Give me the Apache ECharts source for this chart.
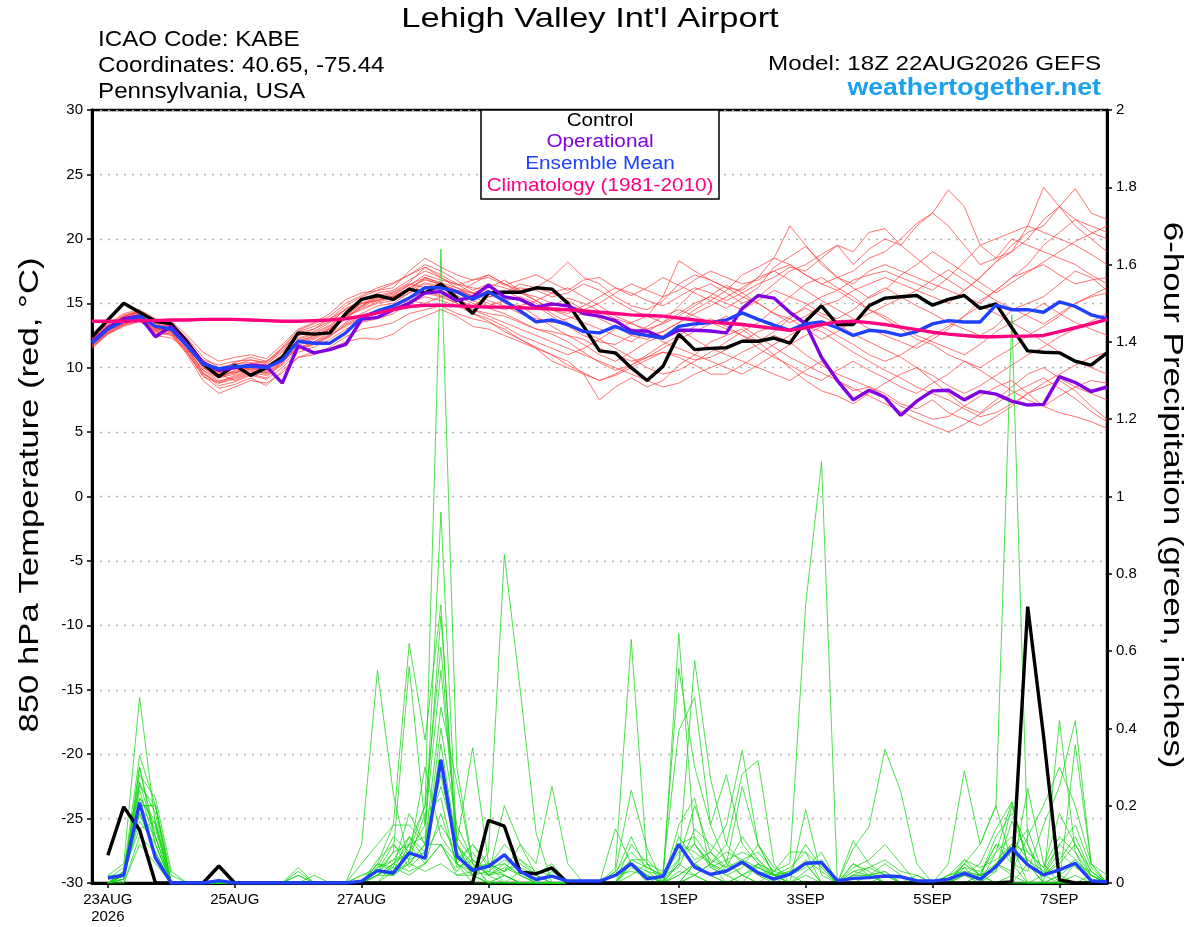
<!DOCTYPE html>
<html><head><meta charset="utf-8">
<script src="https://cdn.jsdelivr.net/npm/echarts@6/dist/echarts.min.js"></script>
<style>html,body{margin:0;padding:0;background:#fff}#c{width:1200px;height:927px}</style>
</head><body><div id="c"></div>
<script>
// ---- x axis: 6-hourly steps from 22AUG2026 18Z (index 0) to 7SEP 18Z (index 64)
const tickIdx  = [1, 9, 17, 25, 37, 45, 53, 61];
const tickText = ['23AUG\n2026', '25AUG', '27AUG', '29AUG', '1SEP', '3SEP', '5SEP', '7SEP'];
const leftTicks = [-30,-25,-20,-15,-10,-5,0,5,10,15,20,25,30];
const rightTicks = [0,0.2,0.4,0.6,0.8,1,1.2,1.4,1.6,1.8,2];

// ---- 850 hPa temperature (deg C), 65 values each
const controlT = [12.4,13.7,15.0,14.3,13.6,13.4,12.0,10.3,9.3,10.2,
 9.4,10.0,10.8,12.7,12.6,12.7,14.2,15.3,15.6,15.3,
 16.1,15.8,16.5,15.4,14.2,15.8,15.85,15.85,16.2,16.1,
 15.0,13.2,11.3,11.15,10.0,9.0,10.1,12.6,11.4,11.5,
 11.55,12.05,12.05,12.3,11.9,13.6,14.8,13.35,13.35,14.8,
 15.4,15.5,15.6,14.85,15.3,15.6,14.6,14.95,13.1,11.3,
 11.2,11.15,10.5,10.2,11.15];
const meanT = [11.9,13.0,13.6,14.0,13.2,13.0,11.7,10.3,9.9,10.1,
 10.1,10.0,10.6,12.05,11.9,11.9,12.7,13.9,14.4,14.8,
 15.4,16.2,16.2,15.9,15.3,15.9,15.2,14.4,13.55,13.7,
 13.35,12.8,12.7,13.2,12.7,12.5,12.3,13.2,13.4,13.5,
 13.7,14.25,13.75,13.3,12.9,13.4,13.55,13.1,12.5,12.9,
 12.8,12.5,12.8,13.4,13.65,13.55,13.55,14.85,14.5,14.5,
 14.3,15.1,14.75,14.1,13.8];
const operationalT = [12.0,13.1,13.8,14.0,12.4,13.2,11.8,10.4,9.8,10.0,
 10.2,10.1,8.8,11.7,11.15,11.4,11.8,13.75,13.9,14.5,
 15.0,15.8,15.9,15.2,15.5,16.4,15.5,15.3,14.7,14.95,
 14.8,14.2,14.0,13.65,12.85,12.85,12.3,12.9,12.9,12.85,
 12.7,14.6,15.6,15.4,14.3,13.4,10.8,9.0,7.5,8.25,
 7.7,6.3,7.4,8.2,8.25,7.5,8.15,7.95,7.4,7.1,
 7.15,9.3,8.85,8.15,8.5];
const climatologyT = [13.6,13.6,13.6,13.65,13.65,13.7,13.7,13.75,13.75,13.75,
 13.7,13.65,13.6,13.6,13.65,13.7,13.8,14.0,14.25,14.5,
 14.75,14.85,14.85,14.8,14.75,14.7,14.7,14.65,14.6,14.55,
 14.5,14.4,14.3,14.2,14.1,14.05,14.0,13.85,13.7,13.55,
 13.45,13.35,13.2,13.05,12.9,13.1,13.35,13.55,13.6,13.5,
 13.35,13.15,12.95,12.75,12.6,12.5,12.4,12.4,12.45,12.45,
 12.5,12.8,13.1,13.4,13.75];

const tempM01 = [12.2,13.2,13.9,14.3,13.5,13.3,12.0,10.6,10.2,10.5, 10.6,10.3,11.2,12.5,12.8,13.5,14.5,15.2,15.8,16.0, 16.8,17.5,17.0,16.2,15.5,16.0,15.0,14.8,14.0,13.2, 12.5,11.8,11.0,10.5,11.2,12.0,12.5,13.0,12.2,11.5, 11.0,10.5,10.0,9.5,9.0,9.8,10.5,9.0,8.2,8.5, 8.0,7.2,6.8,7.5,6.5,6.0,5.5,6.2,7.0,8.0, 8.5,9.0,8.2,7.0,6.0];
const tempM02 = [11.8,12.8,13.5,13.8,13.0,12.8,11.2,9.5,8.8,9.3, 9.8,9.5,10.3,11.8,12.0,12.8,13.8,14.8,15.5,15.8, 16.5,16.2,15.8,15.3,14.8,15.5,15.8,16.2,16.0,15.5, 15.8,16.5,16.0,15.2,14.5,14.0,13.5,14.8,16.0,16.5, 15.8,15.0,15.5,16.5,17.5,18.0,18.8,19.5,18.0,19.2, 20.0,19.5,21.0,22.0,23.8,22.5,19.5,18.5,19.0,20.0, 21.5,22.5,21.0,20.0,19.0];
const tempM03 = [12.4,13.4,14.2,14.5,13.8,13.6,12.5,11.2,10.5,10.8, 11.0,10.7,11.8,13.0,13.5,14.2,15.3,15.8,16.0,16.2, 17.5,18.5,17.8,17.2,16.8,17.2,16.5,16.0,16.2,17.0, 18.2,17.0,16.5,15.5,14.8,14.5,15.2,16.5,17.2,16.8, 16.2,15.5,15.0,14.2,13.5,14.0,14.8,15.2,16.0,16.5, 17.0,16.5,16.0,15.5,15.0,16.0,17.0,18.2,19.0,21.0, 24.0,22.5,21.5,20.5,20.0];
const tempM04 = [11.5,12.6,13.2,13.6,12.8,12.6,11.0,9.0,8.0,8.5, 9.0,8.8,9.6,10.8,11.2,11.5,12.0,12.3,12.2,12.6, 13.5,14.0,14.5,14.0,13.2,13.0,12.5,12.0,11.5,11.0, 10.5,9.5,7.5,8.5,9.2,8.5,9.0,10.2,11.0,12.0, 12.5,13.0,12.0,11.0,10.0,9.0,8.2,7.8,7.2,8.0, 8.8,9.5,10.0,9.0,8.0,7.0,6.5,7.5,8.5,9.5, 10.0,9.2,8.5,8.0,7.5];
const tempM05 = [12.0,13.0,13.8,14.2,13.0,13.2,11.8,10.0,9.2,9.5, 10.2,10.0,10.8,12.0,12.5,13.0,14.0,15.0,15.5,15.5, 16.0,17.0,16.5,16.0,15.8,16.2,16.8,16.0,15.2,14.5, 14.0,13.5,13.0,12.5,12.0,12.8,13.5,14.2,15.0,15.5, 15.0,14.5,15.2,16.0,15.5,15.0,14.2,13.8,14.5,15.5, 16.2,15.5,14.8,14.2,13.5,13.0,12.5,13.2,14.5,15.0, 15.5,16.5,17.5,17.0,16.0];
const tempM06 = [12.2,12.9,13.4,13.9,12.5,12.3,11.4,10.2,9.5,9.0, 9.5,9.2,10.5,11.5,11.8,12.5,13.2,13.8,14.2,14.8, 15.2,15.0,15.5,15.8,15.2,14.8,15.2,15.5,15.0,14.2, 13.5,12.8,12.2,11.5,10.8,10.0,9.5,9.8,10.5,11.2, 12.0,12.8,13.5,14.5,15.5,16.5,17.0,16.2,15.5,14.5, 13.8,13.0,12.2,11.8,11.0,10.5,10.0,10.8,11.5,12.5, 13.2,14.0,15.0,15.5,15.8];
const tempM07 = [11.9,13.1,14.0,14.4,13.6,13.4,12.3,10.8,10.0,10.3, 10.4,10.2,11.5,12.8,13.2,13.8,14.8,15.5,16.0,16.5, 17.2,18.0,17.5,16.8,16.0,16.5,16.2,15.8,15.5,15.0, 14.8,14.5,15.0,15.8,16.5,16.0,15.5,16.0,16.8,17.5, 17.0,16.5,16.8,17.5,18.0,17.2,16.5,17.0,17.5,18.5, 19.0,20.0,21.2,22.0,21.0,19.5,18.0,18.5,20.0,19.5, 19.0,18.5,18.0,17.2,16.5];
const tempM08 = [11.6,12.7,13.4,13.7,12.9,12.9,11.5,9.8,9.0,9.2, 9.7,9.6,10.5,11.5,12.0,12.6,13.5,14.2,14.8,15.0, 15.8,16.2,16.0,15.5,14.5,14.0,13.5,13.0,12.5,12.0, 11.5,11.0,10.5,10.0,9.5,9.0,8.5,8.8,9.5,10.0, 10.5,11.2,11.8,12.5,12.0,11.0,10.2,9.5,9.0,8.5, 7.8,7.0,6.5,6.0,6.2,7.0,7.8,8.5,9.0,8.0, 7.0,6.5,6.2,5.8,5.3];
const tempM09 = [12.3,13.3,14.0,14.3,13.4,13.5,12.2,10.5,9.7,10.0, 10.3,10.5,11.5,12.5,13.0,13.8,14.5,15.0,15.2,15.5, 16.2,16.8,16.5,16.0,15.5,15.0,14.5,14.8,15.2,15.8, 16.2,15.5,14.8,14.0,13.5,14.0,15.5,18.3,17.5,16.8, 16.2,16.0,17.0,18.5,21.0,19.5,18.0,17.0,16.5,17.5, 18.0,17.5,17.0,16.5,16.0,15.5,15.0,16.0,17.0,18.0, 19.5,20.5,21.5,21.0,20.5];
const tempM10 = [11.7,12.8,13.6,14.0,13.1,13.0,11.5,9.6,8.6,8.9, 9.4,9.1,10.0,11.2,11.6,12.2,13.0,13.5,13.8,14.2, 15.0,15.5,15.2,14.8,14.2,13.8,13.2,12.5,12.0,11.5, 11.0,11.5,12.2,13.0,13.5,12.8,12.0,11.5,11.0,10.5, 10.0,9.5,10.2,11.0,11.8,12.5,13.2,12.5,11.8,11.0, 10.5,11.0,11.8,12.5,13.2,14.0,14.8,14.2,13.5,12.8, 12.0,11.2,10.5,10.0,9.5];
const tempM11 = [12.1,13.2,13.9,14.1,13.3,13.1,11.9,10.4,9.8,9.6, 9.9,9.8,10.8,12.2,12.6,13.2,14.2,15.0,15.2,15.6, 16.4,17.2,16.8,16.5,16.2,16.0,15.5,15.2,14.8,14.0, 13.2,12.5,12.0,11.8,12.5,13.2,14.0,14.5,14.0,13.5, 13.0,12.5,12.0,12.8,13.8,14.8,15.5,16.0,15.2,14.5, 14.0,13.2,12.5,12.0,11.5,11.0,11.8,12.8,13.5,14.2, 15.0,14.2,13.5,13.0,12.5];
const tempM12 = [12.0,12.9,13.5,13.9,13.1,12.8,11.4,9.8,9.2,9.8, 10.0,10.1,11.0,12.0,12.3,13.0,14.0,14.5,15.0,15.2, 15.8,16.5,16.2,15.8,16.5,17.2,16.5,15.8,15.2,14.5, 14.2,14.8,15.5,16.2,15.8,15.2,14.8,15.5,16.2,15.8, 15.2,15.8,16.5,17.0,17.8,17.5,18.5,19.5,19.0,20.5, 20.8,19.5,18.5,17.5,16.8,16.0,17.0,18.2,19.5,20.5, 21.0,22.5,23.9,22.0,21.5];
const tempM13 = [11.8,12.7,13.3,13.6,12.7,12.5,11.1,9.4,8.4,8.7, 9.2,8.6,9.8,10.8,11.0,11.6,12.4,13.0,13.2,13.5, 14.2,14.5,14.8,14.2,13.8,13.5,13.0,12.2,11.5,10.5, 10.0,9.5,9.0,9.5,10.2,11.0,11.8,12.5,13.2,13.8, 13.2,12.5,11.5,10.8,10.2,9.5,9.0,9.8,10.5,9.8, 9.2,8.5,8.0,8.8,9.5,10.5,9.8,9.0,8.2,7.5, 7.0,7.8,8.5,9.0,8.8];
const tempM14 = [12.5,13.3,14.1,14.4,13.7,13.4,12.1,10.5,9.8,10.4, 10.8,10.5,11.3,12.7,13.0,13.6,14.6,15.2,15.6,15.9, 16.6,17.8,17.2,16.5,15.8,15.2,14.8,14.2,13.8,13.5, 13.8,14.2,14.0,13.5,13.0,12.5,12.8,13.5,14.2,14.8, 15.5,16.2,17.0,17.5,16.8,16.0,15.2,14.5,13.8,13.0, 12.5,12.0,11.5,12.2,13.0,14.0,15.2,16.0,17.0,17.5, 18.0,17.2,16.5,16.8,17.0];
const tempM15 = [11.6,12.6,13.3,13.9,12.9,12.7,11.2,9.3,8.8,9.1, 9.6,9.4,10.2,11.4,11.8,12.4,13.4,14.0,14.3,14.6, 15.4,15.8,15.5,15.0,14.5,14.2,14.0,13.5,13.0,12.8, 12.5,12.2,11.5,11.0,10.5,10.8,11.2,10.8,10.2,9.5, 9.5,10.2,11.0,11.8,12.5,13.2,12.8,12.0,11.2,10.5, 9.8,9.2,8.5,8.0,7.5,6.8,6.2,6.5,7.2,8.0, 8.8,9.5,10.2,10.8,11.2];
const tempM16 = [12.3,13.1,13.7,14.2,13.2,13.3,12.0,10.4,9.6,9.9, 10.1,9.9,11.0,12.3,12.7,13.3,14.2,14.8,15.4,15.7, 16.4,17.0,16.6,16.2,15.8,15.5,15.8,16.5,16.2,15.8, 15.2,14.5,13.8,13.2,12.5,12.2,12.8,13.5,14.5,15.2, 16.0,17.2,17.8,18.5,18.0,17.2,16.5,16.0,16.8,17.2, 17.5,17.0,16.5,16.0,17.0,18.2,19.5,20.0,20.5,21.0, 20.5,20.0,19.5,18.8,18.0];
const tempM17 = [12.0,13.0,13.7,14.1,13.0,12.9,11.6,10.1,9.4,9.7, 10.0,9.7,10.6,11.9,12.2,12.9,13.9,14.6,15.1,15.4, 16.0,16.6,16.3,15.6,15.0,14.6,14.2,13.6,13.0,12.6, 12.0,11.2,10.4,9.8,10.2,10.8,11.5,12.2,12.8,13.4, 14.0,13.2,12.4,11.6,10.8,10.2,9.6,9.0,8.4,7.8, 7.2,6.6,6.0,5.5,5.0,5.6,6.4,7.2,8.0,8.6, 9.2,8.4,7.6,6.6,5.8];
const tempM18 = [12.2,13.2,14.0,14.3,13.4,13.2,11.8,10.2,9.6,10.2, 10.6,10.4,11.6,12.9,13.4,14.0,15.0,15.6,16.2,16.6, 17.2,17.8,17.0,16.4,16.8,17.0,16.4,16.8,17.2,16.6, 16.0,16.8,17.0,16.2,15.6,16.2,17.0,16.4,15.8,15.2, 14.6,15.4,16.2,17.8,18.6,19.4,18.2,17.0,16.2,15.4, 16.0,17.2,18.0,19.0,18.2,17.4,16.6,15.8,16.6,17.4, 18.2,19.0,19.8,20.4,21.0];
const tempM19 = [11.7,12.7,13.4,13.8,12.8,12.6,11.3,9.6,8.9,9.4, 9.9,9.6,10.4,11.6,11.9,12.5,13.3,13.9,14.4,14.7, 15.4,15.9,15.6,15.0,14.2,13.6,12.8,12.2,11.6,11.0, 10.2,9.6,9.0,9.4,10.0,10.6,11.2,11.0,10.6,10.8, 11.4,12.0,12.8,13.2,14.0,14.6,14.0,13.4,12.6,12.0, 11.4,10.8,10.0,9.4,8.6,8.0,8.6,9.4,10.2,11.0, 11.6,12.4,13.0,13.6,14.2];
const tempM20 = [12.1,13.0,13.6,14.0,13.2,13.1,11.7,10.0,9.3,9.6, 10.0,9.9,10.9,12.1,12.4,13.1,14.0,14.7,15.3,15.5, 16.2,16.9,16.4,16.0,15.6,15.8,16.0,15.4,14.6,14.8, 15.4,15.0,14.4,13.8,13.4,13.0,13.4,14.0,14.8,15.6, 16.4,15.8,15.0,14.2,13.8,13.0,12.2,12.8,13.6,14.2, 14.8,15.4,16.0,16.8,17.6,16.8,16.0,15.2,14.6,14.0, 13.4,14.2,15.0,15.6,16.2];
const tempMembers = [tempM01,tempM02,tempM03,tempM04,tempM05,tempM06,tempM07,tempM08,tempM09,tempM10,tempM11,tempM12,tempM13,tempM14,tempM15,tempM16,tempM17,tempM18,tempM19,tempM20];

// ---- 6-hour precipitation (inches), indices 1..64 (64 values each)
const controlP = [0.072,0.197,0.137,0,0,0,0,0.044,0,0, 0,0,0,0,0,0,0,0,0,0, 0,0,0,0,0.162,0.147,0.028,0.024,0.039,0, 0,0,0,0,0,0,0,0,0,0, 0,0,0,0,0,0,0,0,0,0, 0,0,0,0,0,0,0,0.003,0.715,0.38, 0.008,0,0,0];
const meanP = [0.013,0.02,0.208,0.065,0,0,0,0.006,0,0, 0,0,0,0,0,0,0.005,0.032,0.026,0.078, 0.064,0.319,0.07,0.033,0.043,0.073,0.03,0.009,0.018,0.005, 0.005,0.005,0.02,0.05,0.011,0.017,0.1,0.041,0.022,0.031, 0.054,0.026,0.01,0.023,0.051,0.053,0.006,0.012,0.014,0.018, 0.016,0.006,0.005,0.01,0.025,0.01,0.042,0.09,0.047,0.021, 0.034,0.051,0.006,0.003];

const precM01 = [0,0.02,0.30,0.10,0,0,0,0,0,0, 0,0,0,0,0,0,0,0.02,0.05,0.10, 0.20,1.64,0.30,0.05,0,0.02,0,0,0,0, 0,0,0,0.05,0.02,0,0,0.02,0.05,0.02, 0,0,0,0,0,0,0,0,0,0, 0,0,0,0,0.02,0,0.05,0.10,0,0, 0,0.02,0,0];
const precM02 = [0.02,0.05,0.48,0.15,0,0,0,0,0,0, 0,0,0,0,0,0,0.10,0.55,0.23,0.05, 0.10,0.96,0.10,0.02,0,0,0,0,0,0, 0,0,0,0,0,0,0.02,0.05,0.02,0, 0.02,0,0,0.02,0.05,0,0,0,0,0.02, 0,0,0,0,0,0,0.03,0.20,0.05,0, 0.42,0.08,0,0];
const precM03 = [0,0.03,0.33,0.20,0,0,0,0,0,0, 0,0,0.03,0,0,0,0,0.05,0.15,0.62, 0.37,0.72,0.05,0,0,0,0,0,0.03,0, 0,0,0.04,0.63,0.05,0,0,0.02,0,0, 0,0.05,0,0,0,0,0,0,0,0, 0,0,0,0,0,0.02,0,0,0,0, 0,0.05,0,0];
const precM04 = [0,0.01,0.30,0.12,0,0,0,0,0,0, 0,0,0,0,0,0,0,0.02,0.08,0.56, 0.15,0.69,0.10,0.35,0.05,0,0,0,0,0, 0,0,0,0,0,0,0.645,0.10,0.05,0, 0,0,0,0,0,0,0,0,0,0, 0,0,0,0,0.05,0.02,0,0.02,0.245,0.05, 0,0,0.02,0];
const precM05 = [0.01,0.04,0.25,0.20,0,0,0,0,0,0, 0,0,0,0,0,0,0,0.03,0.02,0.10, 0.05,0.10,0.05,0.02,0.08,0.85,0.50,0.13,0,0, 0,0,0,0,0,0.02,0.555,0.30,0.15,0.28, 0.10,0.05,0.02,0,0,0,0,0,0,0, 0,0,0,0,0,0,0,0,0,0, 0,0.357,0.05,0];
const precM06 = [0,0.02,0.20,0.20,0,0,0,0,0,0, 0,0,0,0,0,0,0.05,0.10,0.15,0.15, 0.10,0.455,0.26,0.05,0,0,0.03,0,0,0, 0,0,0,0,0,0,0.05,0.576,0.27,0.10, 0.05,0.02,0,0,0,0,0,0,0,0, 0,0,0,0,0,0,0,0,0,0, 0,0,0,0];
const precM07 = [0,0.02,0.16,0.10,0,0,0,0,0,0, 0,0,0,0,0,0,0,0,0.05,0.08, 0.20,0.61,0.10,0.02,0,0,0,0,0,0, 0,0,0,0,0,0,0,0.05,0.02,0, 0,0,0.03,0.05,0.72,1.09,0,0,0,0, 0,0,0,0,0,0,0,0,0.05,0.02, 0,0,0,0];
const precM08 = [0,0,0.12,0.08,0,0,0,0,0,0, 0,0,0,0,0,0,0,0.05,0.03,0.12, 0.08,0.32,0.05,0.10,0.05,0.03,0.10,0.05,0.25,0.05, 0,0,0,0.02,0.05,0.03,0.395,0.48,0.15,0.05, 0.02,0,0,0,0.02,0,0,0.11,0.05,0.02, 0,0,0,0,0.02,0.05,0.14,0.21,0.05,0, 0.02,0.05,0.03,0];
const precM09 = [0,0.01,0.20,0.20,0.02,0,0,0,0,0, 0,0,0,0,0,0,0,0.02,0.05,0.03, 0.05,0.18,0.05,0.03,0.02,0.05,0.02,0,0,0, 0,0,0.03,0.24,0.09,0,0,0.05,0.08,0.15, 0.343,0.10,0.02,0,0,0,0,0.09,0.146,0.346, 0.236,0.05,0,0,0,0,0.05,0.02,0,0, 0,0,0,0];
const precM10 = [0,0.02,0.18,0.12,0,0,0,0,0,0, 0,0,0,0.02,0,0,0,0,0.03,0.05, 0.10,0.10,0.02,0.03,0.05,0.02,0,0,0,0, 0,0,0.14,0.05,0,0,0.10,0.08,0.05,0.10, 0.283,0.317,0.05,0,0,0,0,0,0,0, 0,0,0,0.05,0.29,0.10,0.20,0.05,0,0.02, 0.05,0.10,0.02,0];
const precM11 = [0,0,0.10,0.05,0,0,0,0,0,0, 0,0,0,0,0,0,0,0.02,0.02,0.05, 0.03,0.05,0.02,0.02,0,0.02,0,0,0,0, 0,0,0,0,0,0,0.02,0.05,0.02,0.05, 0.25,0.10,0.02,0,0.19,0.02,0,0,0,0, 0,0,0,0,0.05,0.10,0.20,1.47,0.10,0, 0.02,0,0,0];
const precM12 = [0,0.01,0.22,0.15,0,0,0,0,0,0, 0,0,0,0,0,0,0,0.05,0.04,0.02, 0.05,0.10,0.03,0.08,0.02,0,0,0,0,0, 0,0,0,0.05,0.02,0,0.05,0.02,0,0, 0.02,0.05,0.03,0.08,0.08,0,0,0.05,0.03,0, 0,0,0,0,0.05,0.02,0.10,0.05,0.03,0.15, 0.25,0.42,0.05,0.02];
const precM13 = [0,0.02,0.28,0.22,0.03,0,0,0,0,0, 0,0,0.02,0,0,0,0,0.03,0.08,0.10, 0.12,0.25,0.10,0.05,0.02,0.20,0.10,0.02,0,0, 0,0,0,0.05,0.03,0.02,0.08,0.10,0.05,0.03, 0.05,0.03,0.02,0.03,0.05,0.05,0,0.05,0.02,0.03, 0,0.02,0,0,0.03,0.02,0.10,0.08,0.06,0.02, 0.10,0.15,0.04,0];
const precM14 = [0,0.03,0.14,0.16,0,0,0,0,0,0, 0,0,0,0,0,0,0,0.04,0.06,0.07, 0.30,0.12,0.06,0.10,0.04,0.05,0.02,0,0,0, 0,0,0,0.10,0.05,0,0.03,0.02,0.05,0.08, 0.06,0.08,0.03,0.02,0,0,0,0,0.02,0.05, 0.02,0,0,0,0.04,0,0.08,0.21,0.05,0.02, 0.03,0.06,0.02,0];
const precM15 = [0,0.02,0.26,0.18,0,0,0,0,0,0, 0,0,0,0,0,0,0,0.03,0.10,0.06, 0.08,0.15,0.08,0.04,0.05,0.03,0.05,0.02,0.05,0, 0,0,0.02,0.03,0.02,0,0.12,0.06,0.08,0.03, 0.05,0.04,0.02,0.02,0.05,0,0,0.03,0.02,0, 0,0,0,0,0,0.02,0.05,0.03,0.12,0.20, 0.30,0.20,0.05,0];
const precM16 = [0.02,0.02,0.24,0.10,0,0,0,0,0,0, 0,0,0.04,0,0,0,0.02,0.04,0.12,0.08, 0.15,0.55,0.12,0.06,0.03,0.06,0.04,0.02,0,0, 0,0,0.02,0.06,0.04,0.02,0.06,0.10,0.04,0.06, 0.08,0.06,0.02,0.04,0.08,0.04,0,0.02,0.04,0.02, 0.02,0,0,0.02,0.06,0.04,0.06,0.10,0.08,0.04, 0.12,0.08,0.02,0];
const precM17 = [0,0.02,0.20,0.14,0,0,0,0,0,0, 0,0,0,0,0,0,0,0.06,0.10,0.04, 0.08,0.40,0.15,0.06,0.02,0.04,0.02,0,0,0, 0,0,0.02,0.12,0.03,0,0.06,0.20,0.08,0.04, 0.12,0.06,0.02,0,0.03,0.06,0,0.02,0.02,0, 0,0,0,0.02,0.03,0.02,0.12,0.18,0.10,0.02, 0.06,0.12,0.03,0];
const precM18 = [0,0.01,0.18,0.08,0,0,0,0,0,0, 0,0,0,0,0,0,0,0.02,0.04,0.18, 0.10,0.28,0.08,0.02,0.03,0.02,0,0,0,0, 0,0,0,0.04,0.02,0,0.15,0.22,0.04,0.02, 0.04,0.10,0.04,0.02,0.06,0.03,0,0.04,0.06,0.10, 0.05,0,0,0,0.02,0.02,0.04,0.08,0.14,0.02, 0.08,0.04,0.02,0];
const precM19 = [0,0.02,0.22,0.16,0,0,0,0,0,0, 0,0,0,0,0,0,0,0.03,0.02,0.06, 0.18,0.22,0.04,0.06,0.02,0.03,0.06,0.02,0,0, 0,0,0.03,0.08,0.04,0.02,0.04,0.14,0.10,0.06, 0.02,0.04,0.02,0.03,0.10,0.04,0,0.02,0.02,0.03, 0,0,0,0,0.06,0.02,0.03,0.16,0.08,0.04, 0.18,0.10,0.03,0];
const precM20 = [0,0.03,0.26,0.12,0,0,0,0,0,0, 0,0,0.02,0,0,0,0.02,0.03,0.06,0.12, 0.06,0.36,0.10,0.04,0.04,0.10,0.06,0.03,0.02,0, 0,0,0,0.06,0.06,0.02,0.10,0.12,0.06,0.04, 0.06,0.04,0.02,0.02,0.04,0.08,0,0.03,0.04,0.06, 0.03,0.02,0,0.02,0.04,0.03,0.08,0.12,0.06,0.03, 0.10,0.06,0.02,0];
const precMembers = [precM01,precM02,precM03,precM04,precM05,precM06,precM07,precM08,precM09,precM10,precM11,precM12,precM13,precM14,precM15,precM16,precM17,precM18,precM19,precM20];

// ---- build chart
const FONT = '"Liberation Sans", Arial, Helvetica, sans-serif';
const cats = controlT.map((_, i) => String(i));
const pShift = a => [null].concat(a);   // precipitation starts at index 1
const showTick = i => tickIdx.indexOf(i) >= 0;

const series = [];
tempMembers.forEach((m, k) => series.push({
  name: 'T member ' + (k + 1), type: 'line', yAxisIndex: 0, data: m,
  symbol: 'none', silent: true, lineStyle: { color: '#ff3b3b', width: 0.9, opacity: 0.8 }
}));
precMembers.forEach((m, k) => series.push({
  name: 'P member ' + (k + 1), type: 'line', yAxisIndex: 1, data: pShift(m),
  symbol: 'none', silent: true, lineStyle: { color: '#19d619', width: 0.9, opacity: 0.85 }
}));
series.push({ name: 'Control T', type: 'line', yAxisIndex: 0, data: controlT, symbol: 'none', lineStyle: { color: '#000', width: 3.4 } });
series.push({ name: 'Control P', type: 'line', yAxisIndex: 1, data: pShift(controlP), symbol: 'none', lineStyle: { color: '#000', width: 3.4 } });
series.push({ name: 'Operational T', type: 'line', yAxisIndex: 0, data: operationalT, symbol: 'none', lineStyle: { color: '#8000e0', width: 3.4 } });
series.push({ name: 'Mean T', type: 'line', yAxisIndex: 0, data: meanT, symbol: 'none', lineStyle: { color: '#2040ff', width: 3.4 } });
series.push({ name: 'Mean P', type: 'line', yAxisIndex: 1, data: pShift(meanP), symbol: 'none', lineStyle: { color: '#2040ff', width: 3.4 } });
series.push({ name: 'Climatology T', type: 'line', yAxisIndex: 0, data: climatologyT, symbol: 'none', lineStyle: { color: '#ff0080', width: 3.4 } });

function txt(t, x, y, size, color, align, sx, opts) {
  opts = opts || {};
  return {
    type: 'text', x: x, y: y, scaleX: sx || 1, rotation: opts.rot || 0, z: 100,
    style: {
      text: t, fill: color, font: (opts.bold ? 'bold ' : '') + size + 'px ' + FONT,
      textAlign: align, align: align, textVerticalAlign: 'middle', verticalAlign: 'middle'
    }
  };
}

const chart = echarts.init(document.getElementById('c'), null, { renderer: 'canvas' });
chart.setOption({
  animation: false,
  backgroundColor: '#fff',
  textStyle: { fontFamily: FONT },
  grid: { left: 92, right: 93, top: 110, bottom: 44, show: true, borderColor: '#000', borderWidth: 2.5 },
  xAxis: {
    type: 'category', data: cats, boundaryGap: false,
    axisLine: { show: true, onZero: false, lineStyle: { color: '#000', width: 3 } },
    axisTick: { show: true, interval: (i) => showTick(i), length: 5, lineStyle: { color: '#000', width: 1.5 } },
    axisLabel: {
      interval: (i) => showTick(i), color: '#000', fontSize: 15, lineHeight: 17, margin: 8, fontFamily: FONT,
      formatter: (v, i) => { const k = tickIdx.indexOf(Number(v)); return k >= 0 ? tickText[k] : ''; }
    },
    splitLine: { show: false }
  },
  yAxis: [
    {
      type: 'value', position: 'left', min: leftTicks[0], max: leftTicks[leftTicks.length - 1], interval: 5,
      axisLine: { show: true, lineStyle: { color: '#000', width: 3 } },
      axisTick: { show: true, length: 5, lineStyle: { color: '#000', width: 1.5 } },
      axisLabel: { color: '#000', fontSize: 15, margin: 9, fontFamily: FONT },
      splitLine: { show: true, lineStyle: { color: '#b0b0b0', width: 1.3, type: [2, 6] } }
    },
    {
      type: 'value', position: 'right', min: rightTicks[0], max: rightTicks[rightTicks.length - 1], interval: 0.2,
      axisLine: { show: true, lineStyle: { color: '#000', width: 3 } },
      axisTick: { show: true, length: 5, lineStyle: { color: '#000', width: 1.5 } },
      axisLabel: { color: '#000', fontSize: 15, margin: 9, fontFamily: FONT },
      splitLine: { show: false }
    }
  ],
  series: series,
  graphic: [
    txt("Lehigh Valley Int'l Airport", 590, 19, 28, '#000', 'center', 1.23),
    txt('ICAO Code: KABE', 98, 40, 22, '#000', 'left', 1.1),
    txt('Coordinates: 40.65, -75.44', 98, 66, 22, '#000', 'left', 1.1),
    txt('Pennsylvania, USA', 98, 92, 22, '#000', 'left', 1.1),
    txt('Model: 18Z 22AUG2026 GEFS', 1101, 64, 21, '#000', 'right', 1.15),
    txt('weathertogether.net', 1101, 89, 23, '#1aa0f0', 'right', 1.16, { bold: true }),
    { type: 'rect', z: 90, shape: { x: 481, y: 110, width: 238, height: 89 },
      style: { fill: '#fff', stroke: '#000', lineWidth: 1.5 } },
    txt('Control', 600, 121, 18, '#000', 'center', 1.15),
    txt('Operational', 600, 142, 18, '#8000e0', 'center', 1.15),
    txt('Ensemble Mean', 600, 164, 18, '#2040ff', 'center', 1.15),
    txt('Climatology (1981-2010)', 600, 186, 18, '#ff0080', 'center', 1.15),
    txt('850 hPa Temperature (red, °C)', 30, 495, 28, '#000', 'center', 1.24, { rot: Math.PI / 2 }),
    txt('6-hour Precipitation (green, inches)', 1172, 495, 28, '#000', 'center', 1.25, { rot: -Math.PI / 2 })
  ]
});
</script></body></html>
